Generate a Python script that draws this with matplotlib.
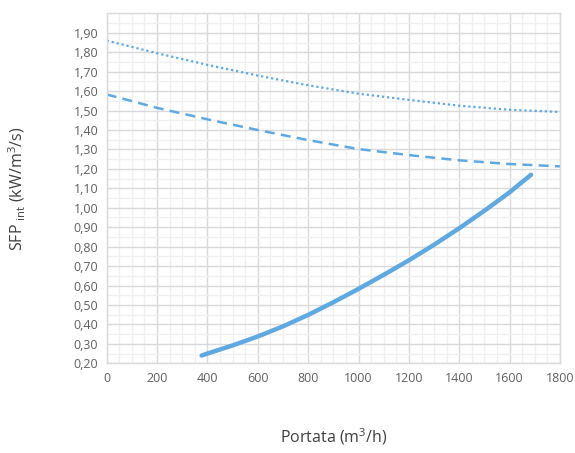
import matplotlib
matplotlib.use("Agg")
import matplotlib.pyplot as plt
from matplotlib.ticker import MultipleLocator, FuncFormatter
import numpy as np

plt.rcParams['font.family'] = ['Open Sans', 'DejaVu Sans']

# Dati
portata_dot = [0, 200, 400, 600, 800, 1000, 1200, 1400, 1600, 1800]
sfp_dot = [1.86, 1.795, 1.735, 1.68, 1.63, 1.587, 1.555, 1.525, 1.504, 1.493]

portata_dash = [0, 200, 400, 600, 800, 1000, 1200, 1400, 1600, 1800]
sfp_dash = [1.583, 1.514, 1.455, 1.40, 1.348, 1.302, 1.271, 1.244, 1.225, 1.213]

portata_sol = [377, 400, 500, 600, 700, 800, 900, 1000, 1100, 1200, 1300, 1400, 1500, 1600, 1685]
sfp_sol = [0.24, 0.25, 0.292, 0.338, 0.39, 0.449, 0.514, 0.583, 0.655, 0.73, 0.81, 0.895, 0.985, 1.08, 1.17]

colore = '#5FA8E0'

fig = plt.figure(figsize=(5.75, 4.53), dpi=100)
ax = fig.add_axes([0.1855, 0.198, 0.7885, 0.7725])

ax.plot(portata_dot, sfp_dot, color=colore, lw=1.6, linestyle=(0, (1, 1.3)))
ax.plot(portata_dash, sfp_dash, color=colore, lw=1.8, linestyle=(0, (4, 2.5)))
ax.plot(portata_sol, sfp_sol, color=colore, lw=3.2, solid_capstyle='round')

ax.set_xlim(0, 1800)
ax.set_ylim(0.2, 2.0)
ax.xaxis.set_major_locator(MultipleLocator(200))
ax.xaxis.set_minor_locator(MultipleLocator(50))
ax.set_yticks(np.arange(0.2, 1.91, 0.1))
ax.yaxis.set_minor_locator(MultipleLocator(0.05))
ax.yaxis.set_major_formatter(FuncFormatter(lambda v, p: f"{v:.2f}".replace('.', ',')))

ax.grid(which='major', color='#d9d9d9', lw=1.0)
ax.grid(which='minor', color='#f0f0f0', lw=1.0)
ax.set_axisbelow(True)
for s in ax.spines.values():
    s.set_color('#d9d9d9')
    s.set_linewidth(1.0)

ax.tick_params(which='both', length=0, labelsize=9, colors='#5f5f5f', pad=6)

ax.set_xlabel(r'Portata (m$^{\mathregular{3}}$/h)', fontsize=11.5, color='#404040', labelpad=30)
ax.set_ylabel(r'SFP $_{\mathregular{int}}$ (kW/m$^{\mathregular{3}}$/s)', fontsize=11.5, color='#404040', labelpad=33)

fig.savefig('out.png', dpi=100)
